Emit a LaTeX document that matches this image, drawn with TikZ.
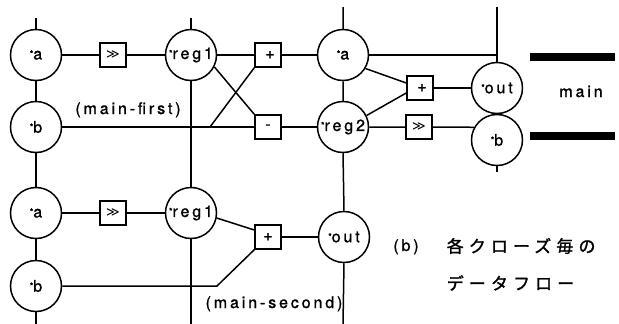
\documentclass[tikz,border=0pt]{standalone}
\usepackage{fontspec}
\setmainfont{TeX Gyre Heros}[LetterSpace=18,FakeBold=1.2]
\newfontfamily\cjk{Noto Sans CJK JP}[LetterSpace=30,FakeBold=1.5]
\newfontfamily\symf{DejaVu Sans}
\newcommand\myast{\raisebox{2.5pt}{\fontsize{9}{9}\selectfont *}}
\begin{document}
\begin{tikzpicture}[x=1pt,y=-1pt,line width=1.5pt,
  st/.style={circle,draw,minimum size=51pt,inner sep=0pt,font=\fontsize{16}{18}\selectfont},
  op/.style={rectangle,draw,minimum width=26pt,minimum height=24pt,inner sep=0pt,font=\fontsize{16}{18}\selectfont},
  lbl/.style={anchor=base,inner sep=0pt,font=\fontsize{16}{18}\selectfont},
  jp/.style={anchor=west,inner sep=0pt,font=\fontsize{17}{20}\cjk},
  bar/.style={fill=black,draw=none}]
\useasboundingbox (0,0) rectangle (619,324);
% top-left block
\node[st] (a1) at (36,55) {\myast a};
\node[op] (sh1) at (113,55) {\raisebox{-3pt}{\symf\fontsize{13}{13}\selectfont ≫}};
\node[st] (r1) at (191,55) {\myast reg1};
\node[op] (p1) at (268,55) {\raisebox{-4pt}{\hspace{4pt}+}};
\node[st] (b1) at (36,127) {\myast b};
\node[op] (m1) at (268,127) {\raisebox{-3pt}{-}};
% top-right block
\node[st] (a2) at (343,55) {\myast a};
\node[st] (r2) at (343,127) {\myast reg2};
\node[op] (p2) at (420,88) {\raisebox{-4pt}{\hspace{4pt}+}};
\node[op] (sh2) at (419,127) {\raisebox{-3pt}{\symf\fontsize{13}{13}\selectfont ≫}};
\node[st] (o2) at (497,88) {\myast out};
\node[st] (b2) at (497,140) {\myast b};
% bottom block
\node[st] (a3) at (36,213) {\myast a};
\node[op] (sh3) at (113,213) {\raisebox{-3pt}{\symf\fontsize{13}{13}\selectfont ≫}};
\node[st] (r3) at (191,213) {\myast reg1};
\node[st] (b3) at (36,286) {\myast b};
\node[op] (p3) at (268,237) {\raisebox{-4pt}{+}};
\node[st] (o3) at (344,237) {\myast out};
% free ends
\coordinate (t1) at (36,18);
\coordinate (e1) at (36,324);
\coordinate (t2) at (191,18);
\coordinate (e2) at (191,324);
\coordinate (t3) at (343,7);
\coordinate (e3) at (343,324);
\coordinate (t4) at (497,7);
\coordinate (e4) at (497,172);
\coordinate (j4) at (497,55);
\coordinate (k1) at (210,127);
\coordinate (k3) at (217,286);
% vertical lines
\draw (t1) -- (a1.north) (a1.south) -- (b1.north) (b1.south) -- (a3.north) (a3.south) -- (b3.north) (b3.south) -- (e1);
\draw (t2) -- (r1.north) (r1.south) -- (r3.north) (r3.south) -- (e2);
\draw (t3) -- (a2.north) (a2.south) -- (r2.north) (r2.south) -- (o3.north) (o3.south) -- (e3);
\draw (t4) -- (o2.north) (o2.south) -- (b2.north) (b2.south) -- (e4);
% top-left connections
\draw (a1.east) -- (sh1.west) (sh1.east) -- (r1.west);
\draw (r1.east) -- (p1.west);
\draw (b1.east) -- (m1.west);
\draw (r1.-27) -- (m1.north west);
\draw (k1) -- (p1.south west);
\draw (p1.east) -- (a2.west);
\draw (m1.east) -- (r2.west);
% top-right connections
\draw (a2.east) -- (j4);
\draw (a2.-31) -- ([yshift=5pt]p2.west);
\draw (r2.26) -- ([yshift=-5pt]p2.west);
\draw (p2.east) -- (o2.west);
\draw (r2.east) -- (sh2.west) (sh2.east) -- (b2.151);
% bottom connections
\draw (a3.east) -- (sh3.west) (sh3.east) -- (r3.west);
\draw (r3.-11) -- ([yshift=7pt]p3.west);
\draw (b3.east) -- (k3) -- (p3.south west);
\draw (p3.east) -- (o3.west);
% bars
\fill[bar] (530,53) rectangle (615,61);
\fill[bar] (530,132) rectangle (615,140);
% labels
\node[lbl] (lf) at (128,114) {(main-first)};
\node[lbl] (ls) at (274,308) {(main-second)};
\node[lbl] (lm) at (581,97) {main};
\node[lbl] (lb) at (406,251) {(b)};
\node[jp] (j1) at (446,246) {各クローズ毎の};
\node[jp] (j2) at (446,283) {データフロー};
\end{tikzpicture}
\end{document}
